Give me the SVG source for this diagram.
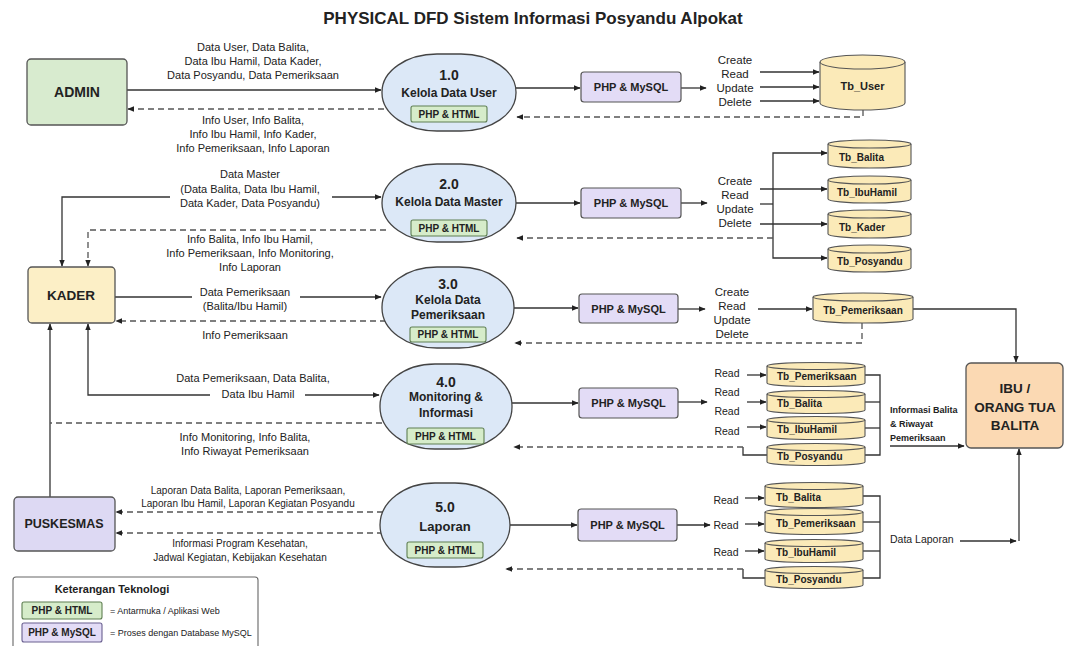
<svg xmlns="http://www.w3.org/2000/svg" width="1067" height="646" viewBox="0 0 1067 646">
<style>
text{font-family:"Liberation Sans",Arial,sans-serif;fill:#222;dominant-baseline:central}
.t{font-size:17px;font-weight:bold;text-anchor:middle}
.ent{font-size:14px;font-weight:bold;text-anchor:middle}
.pn{font-size:14px;font-weight:bold;text-anchor:middle}
.pt{font-size:12px;font-weight:bold;text-anchor:middle}
.bd{font-size:10px;font-weight:bold;text-anchor:middle}
.my{font-size:11px;font-weight:bold;text-anchor:middle}
.lb{font-size:11px;text-anchor:middle}
.lbs{font-size:10px;text-anchor:middle}
.op{font-size:11.5px;text-anchor:middle}
.rd{font-size:10.5px;text-anchor:middle}
.tb{font-size:10px;font-weight:bold}
.sm{font-size:9px;font-weight:bold}
.lg{font-size:9px}
.proc{fill:#dce8f7;stroke:#444;stroke-width:1.3}
.badge{fill:#d6ecca;stroke:#5f7f52;stroke-width:1.1}
.mysql{fill:#e3dcf6;stroke:#555;stroke-width:1.2}
.cyl{fill:#fbeab8;stroke:#555;stroke-width:1.1}
.s{fill:none;stroke:#333;stroke-width:1.3}
.d{fill:none;stroke:#555;stroke-width:1.3;stroke-dasharray:6 4}
</style>
<defs>
<marker id="a" viewBox="0 0 10 10" refX="9" refY="5" markerWidth="7" markerHeight="7" orient="auto" markerUnits="userSpaceOnUse">
<path d="M0,1 L10,5 L0,9 Z" fill="#222"/>
</marker>
</defs>
<rect width="1067" height="646" fill="#fff"/>
<text class="t" x="533" y="18">PHYSICAL DFD Sistem Informasi Posyandu Alpokat</text>

<g id="connectors">
<path class="s" d="M127,90 H381" marker-end="url(#a)"/>
<path class="d" d="M384,109 H128" marker-end="url(#a)"/>
<path class="s" d="M516,88 H580" marker-end="url(#a)"/>
<path class="s" d="M681,88 H706" marker-end="url(#a)"/>
<path class="s" d="M760,72 H819" marker-end="url(#a)"/>
<path class="s" d="M760,87 H819" marker-end="url(#a)"/>
<path class="s" d="M760,101 H819" marker-end="url(#a)"/>
<path class="d" d="M863,110 V117 H517" marker-end="url(#a)"/>
<path class="s" d="M170,197 H62 V266" marker-end="url(#a)"/>
<path class="s" d="M332,197 H381" marker-end="url(#a)"/>
<path class="d" d="M386,230 H88 V266" marker-end="url(#a)"/>
<path class="s" d="M516,203 H580" marker-end="url(#a)"/>
<path class="s" d="M681,203 H707" marker-end="url(#a)"/>
<path class="s" d="M760,189 H827" marker-end="url(#a)"/>
<path class="s" d="M760,204 H773"/>
<path class="s" d="M760,224 H827" marker-end="url(#a)"/>
<path class="s" d="M773,205 V153 H827" marker-end="url(#a)"/>
<path class="s" d="M773,205 V258 H827" marker-end="url(#a)"/>
<path class="d" d="M773,238 H517" marker-end="url(#a)"/>
<path class="s" d="M115,297 H192"/>
<path class="s" d="M300,297 H381" marker-end="url(#a)"/>
<path class="d" d="M386,321 H116" marker-end="url(#a)"/>
<path class="s" d="M514,308 H578" marker-end="url(#a)"/>
<path class="s" d="M678,309 H705" marker-end="url(#a)"/>
<path class="s" d="M758,309 H812" marker-end="url(#a)"/>
<path class="s" d="M913,309 H1016 V362" marker-end="url(#a)"/>
<path class="d" d="M862,323 V343 H515" marker-end="url(#a)"/>
<path class="s" d="M210,395 H88 V324" marker-end="url(#a)"/>
<path class="s" d="M305,395 H379" marker-end="url(#a)"/>
<path class="s" d="M50,497 V324" marker-end="url(#a)"/>
<path class="d" d="M382,423 H50"/>
<path class="s" d="M512,403 H578" marker-end="url(#a)"/>
<path class="s" d="M678,402 H707" marker-end="url(#a)"/>
<path class="s" d="M747,375 H766" marker-end="url(#a)"/>
<path class="s" d="M747,402 H766" marker-end="url(#a)"/>
<path class="s" d="M747,427 H766" marker-end="url(#a)"/>
<path class="s" d="M865,375 H880 V455 H865"/>
<path class="s" d="M865,402 H880"/>
<path class="s" d="M865,428 H880"/>
<path class="s" d="M767,455 H743 V447"/>
<path class="d" d="M743,447 H514" marker-end="url(#a)"/>
<path class="s" d="M890,446 H964" marker-end="url(#a)"/>
<path class="d" d="M383,512 H116" marker-end="url(#a)"/>
<path class="d" d="M383,533 H116" marker-end="url(#a)"/>
<path class="s" d="M510,525 H577" marker-end="url(#a)"/>
<path class="s" d="M677,525 H710" marker-end="url(#a)"/>
<path class="s" d="M745,498 H764" marker-end="url(#a)"/>
<path class="s" d="M745,524 H764" marker-end="url(#a)"/>
<path class="s" d="M745,551 H764" marker-end="url(#a)"/>
<path class="s" d="M863,496 H880 V578 H863"/>
<path class="s" d="M863,522 H880"/>
<path class="s" d="M863,551 H880"/>
<path class="s" d="M765,578 H743 V569"/>
<path class="d" d="M743,569 H506" marker-end="url(#a)"/>
<path class="s" d="M960,541 H1016" marker-end="url(#a)"/>
<path class="s" d="M1019,541 V449" marker-end="url(#a)"/>
</g>

<g id="labels">
<text class="lb" x="253" y="47">Data User, Data Balita,</text>
<text class="lb" x="253" y="61">Data Ibu Hamil, Data Kader,</text>
<text class="lb" x="253" y="75">Data Posyandu, Data Pemeriksaan</text>
<text class="lb" x="253" y="120">Info User, Info Balita,</text>
<text class="lb" x="253" y="134">Info Ibu Hamil, Info Kader,</text>
<text class="lb" x="253" y="148">Info Pemeriksaan, Info Laporan</text>
<text class="lb" x="250" y="174">Data Master</text>
<text class="lb" x="250" y="189">(Data Balita, Data Ibu Hamil,</text>
<text class="lb" x="250" y="203">Data Kader, Data Posyandu)</text>
<text class="lb" x="250" y="239">Info Balita, Info Ibu Hamil,</text>
<text class="lb" x="250" y="253">Info Pemeriksaan, Info Monitoring,</text>
<text class="lb" x="250" y="267">Info Laporan</text>
<text class="lb" x="245" y="292">Data Pemeriksaan</text>
<text class="lb" x="245" y="306">(Balita/Ibu Hamil)</text>
<text class="lb" x="245" y="335">Info Pemeriksaan</text>
<text class="lb" x="253" y="378">Data Pemeriksaan, Data Balita,</text>
<text class="lb" x="258" y="394">Data Ibu Hamil</text>
<text class="lb" x="245" y="437">Info Monitoring, Info Balita,</text>
<text class="lb" x="245" y="451">Info Riwayat Pemeriksaan</text>
<text class="lbs" x="248" y="490">Laporan Data Balita, Laporan Pemeriksaan,</text>
<text class="lbs" x="248" y="503">Laporan Ibu Hamil, Laporan Kegiatan Posyandu</text>
<text class="lbs" x="240" y="543">Informasi Program Kesehatan,</text>
<text class="lbs" x="240" y="557">Jadwal Kegiatan, Kebijakan Kesehatan</text>
<text class="op" x="735" y="60">Create</text>
<text class="op" x="735" y="74">Read</text>
<text class="op" x="735" y="88">Update</text>
<text class="op" x="735" y="102">Delete</text>
<text class="op" x="735" y="181">Create</text>
<text class="op" x="735" y="195">Read</text>
<text class="op" x="735" y="209">Update</text>
<text class="op" x="735" y="223">Delete</text>
<text class="op" x="732" y="292">Create</text>
<text class="op" x="732" y="306">Read</text>
<text class="op" x="732" y="320">Update</text>
<text class="op" x="732" y="334">Delete</text>
<text class="rd" x="727" y="373">Read</text>
<text class="rd" x="727" y="392">Read</text>
<text class="rd" x="727" y="411">Read</text>
<text class="rd" x="727" y="431">Read</text>
<text class="rd" x="726" y="500">Read</text>
<text class="rd" x="726" y="525">Read</text>
<text class="rd" x="726" y="552">Read</text>
<text class="sm" x="890" y="410">Informasi Balita</text>
<text class="sm" x="890" y="424">&amp; Riwayat</text>
<text class="sm" x="890" y="438">Pemeriksaan</text>
<text x="890" y="539" style="font-size:10.5px">Data Laporan</text>
</g>

<g id="admin">
<rect x="27" y="59" width="100" height="66" rx="4" fill="#d8ebcf" stroke="#555" stroke-width="1.3"/>
<text class="ent" x="77" y="92">ADMIN</text>
</g>
<g id="kader">
<rect x="28" y="267" width="87" height="56" rx="4" fill="#fcefc6" stroke="#555" stroke-width="1.3"/>
<text class="ent" x="71" y="295" style="font-size:13.5px">KADER</text>
</g>
<g id="puskesmas">
<rect x="14" y="497" width="101" height="54" rx="4" fill="#ddd9f3" stroke="#555" stroke-width="1.3"/>
<text class="ent" x="64" y="524" style="font-size:12.5px">PUSKESMAS</text>
</g>
<g id="ibu">
<rect x="966" y="363" width="97" height="85" rx="5" fill="#fbd9b3" stroke="#555" stroke-width="1.3"/>
<text class="ent" x="1015" y="388" style="font-size:13.5px">IBU /</text>
<text class="ent" x="1015" y="407" style="font-size:13.5px">ORANG TUA</text>
<text class="ent" x="1015" y="425" style="font-size:13.5px">BALITA</text>
</g>

<g id="p1">
<rect class="proc" x="382" y="54" width="134" height="77" rx="55" ry="38"/>
<text class="pn" x="449" y="75">1.0</text>
<text class="pt" x="449" y="93">Kelola Data User</text>
<rect class="badge" x="411" y="106" width="76" height="16" rx="2"/>
<text class="bd" x="449" y="114">PHP &amp; HTML</text>
</g>
<g id="p2">
<rect class="proc" x="382" y="164" width="134" height="78" rx="55" ry="39"/>
<text class="pn" x="449" y="184">2.0</text>
<text class="pt" x="449" y="202">Kelola Data Master</text>
<rect class="badge" x="411" y="220" width="76" height="16" rx="2"/>
<text class="bd" x="449" y="228">PHP &amp; HTML</text>
</g>
<g id="p3">
<rect class="proc" x="382" y="267" width="132" height="81" rx="55" ry="40"/>
<text class="pn" x="448" y="284">3.0</text>
<text class="pt" x="448" y="300">Kelola Data</text>
<text class="pt" x="448" y="315">Pemeriksaan</text>
<rect class="badge" x="410" y="327" width="76" height="15" rx="2"/>
<text class="bd" x="448" y="334.5">PHP &amp; HTML</text>
</g>
<g id="p4">
<rect class="proc" x="380" y="364" width="132" height="85" rx="55" ry="42"/>
<text class="pn" x="446" y="382">4.0</text>
<text class="pt" x="446" y="397">Monitoring &amp;</text>
<text class="pt" x="446" y="413">Informasi</text>
<rect class="badge" x="407" y="428" width="77" height="16" rx="2"/>
<text class="bd" x="445.5" y="436">PHP &amp; HTML</text>
</g>
<g id="p5">
<rect class="proc" x="380" y="483" width="130" height="84" rx="55" ry="42"/>
<text class="pn" x="445" y="507">5.0</text>
<text class="pt" x="445" y="526" style="font-size:13px">Laporan</text>
<rect class="badge" x="407" y="542" width="76" height="16" rx="2"/>
<text class="bd" x="445" y="550">PHP &amp; HTML</text>
</g>

<g id="mysql1"><rect class="mysql" x="581" y="72" width="100" height="30" rx="3"/><text class="my" x="631" y="87">PHP &amp; MySQL</text></g>
<g id="mysql2"><rect class="mysql" x="581" y="188" width="100" height="30" rx="3"/><text class="my" x="631" y="203">PHP &amp; MySQL</text></g>
<g id="mysql3"><rect class="mysql" x="579" y="294" width="99" height="29" rx="3"/><text class="my" x="628.5" y="308.5">PHP &amp; MySQL</text></g>
<g id="mysql4"><rect class="mysql" x="579" y="388" width="99" height="30" rx="3"/><text class="my" x="628.5" y="403">PHP &amp; MySQL</text></g>
<g id="mysql5"><rect class="mysql" x="578" y="509" width="99" height="32" rx="3"/><text class="my" x="627.5" y="525">PHP &amp; MySQL</text></g>

<g id="tb_user">
<path class="cyl" d="M820,62 A42.5,7 0 0 1 905,62 V103 A42.5,7 0 0 1 820,103 Z"/>
<path class="cyl" d="M820,62 A42.5,7 0 0 0 905,62" fill="none"/>
<text class="tb" x="862.5" y="86" text-anchor="middle" style="font-size:11px">Tb_User</text>
</g>
<g id="tb_balita2">
<path class="cyl" d="M828,144 A41.5,4 0 0 1 911,144 V164 A41.5,4 0 0 1 828,164 Z"/>
<path class="cyl" d="M828,144 A41.5,4 0 0 0 911,144" fill="none"/>
<text class="tb" x="839" y="157">Tb_Balita</text>
</g>
<g id="tb_ibuhamil2">
<path class="cyl" d="M828,180 A41.5,4 0 0 1 911,180 V199 A41.5,4 0 0 1 828,199 Z"/>
<path class="cyl" d="M828,180 A41.5,4 0 0 0 911,180" fill="none"/>
<text class="tb" x="837" y="192">Tb_IbuHamil</text>
</g>
<g id="tb_kader2">
<path class="cyl" d="M828,214 A41.5,4 0 0 1 911,214 V234 A41.5,4 0 0 1 828,234 Z"/>
<path class="cyl" d="M828,214 A41.5,4 0 0 0 911,214" fill="none"/>
<text class="tb" x="839" y="227">Tb_Kader</text>
</g>
<g id="tb_posyandu2">
<path class="cyl" d="M828,249 A41.5,4 0 0 1 911,249 V268 A41.5,4 0 0 1 828,268 Z"/>
<path class="cyl" d="M828,249 A41.5,4 0 0 0 911,249" fill="none"/>
<text class="tb" x="837" y="261">Tb_Posyandu</text>
</g>
<g id="tb_pemeriksaan3">
<path class="cyl" d="M813,297 A50,4 0 0 1 913,297 V319 A50,4 0 0 1 813,319 Z"/>
<path class="cyl" d="M813,297 A50,4 0 0 0 913,297" fill="none"/>
<text class="tb" x="863" y="310" text-anchor="middle">Tb_Pemeriksaan</text>
</g>
<g id="tb_pemeriksaan4">
<path class="cyl" d="M767,366 A49,3.5 0 0 1 865,366 V383 A49,3.5 0 0 1 767,383 Z"/>
<path class="cyl" d="M767,366 A49,3.5 0 0 0 865,366" fill="none"/>
<text class="tb" x="777" y="376">Tb_Pemeriksaan</text>
</g>
<g id="tb_balita4">
<path class="cyl" d="M767,394 A49,3.5 0 0 1 865,394 V410 A49,3.5 0 0 1 767,410 Z"/>
<path class="cyl" d="M767,394 A49,3.5 0 0 0 865,394" fill="none"/>
<text class="tb" x="777" y="403">Tb_Balita</text>
</g>
<g id="tb_ibuhamil4">
<path class="cyl" d="M767,420 A49,3.5 0 0 1 865,420 V436 A49,3.5 0 0 1 767,436 Z"/>
<path class="cyl" d="M767,420 A49,3.5 0 0 0 865,420" fill="none"/>
<text class="tb" x="777" y="429">Tb_IbuHamil</text>
</g>
<g id="tb_posyandu4">
<path class="cyl" d="M767,447 A49,3.5 0 0 1 865,447 V462 A49,3.5 0 0 1 767,462 Z"/>
<path class="cyl" d="M767,447 A49,3.5 0 0 0 865,447" fill="none"/>
<text class="tb" x="777" y="456">Tb_Posyandu</text>
</g>
<g id="tb_balita5">
<path class="cyl" d="M765,486 A49,3.5 0 0 1 863,486 V504 A49,3.5 0 0 1 765,504 Z"/>
<path class="cyl" d="M765,486 A49,3.5 0 0 0 863,486" fill="none"/>
<text class="tb" x="776" y="497">Tb_Balita</text>
</g>
<g id="tb_pemeriksaan5">
<path class="cyl" d="M765,512 A49,3.5 0 0 1 863,512 V531 A49,3.5 0 0 1 765,531 Z"/>
<path class="cyl" d="M765,512 A49,3.5 0 0 0 863,512" fill="none"/>
<text class="tb" x="776" y="523">Tb_Pemeriksaan</text>
</g>
<g id="tb_ibuhamil5">
<path class="cyl" d="M765,543 A49,3.5 0 0 1 863,543 V559 A49,3.5 0 0 1 765,559 Z"/>
<path class="cyl" d="M765,543 A49,3.5 0 0 0 863,543" fill="none"/>
<text class="tb" x="776" y="552">Tb_IbuHamil</text>
</g>
<g id="tb_posyandu5">
<path class="cyl" d="M765,570 A49,3.5 0 0 1 863,570 V585 A49,3.5 0 0 1 765,585 Z"/>
<path class="cyl" d="M765,570 A49,3.5 0 0 0 863,570" fill="none"/>
<text class="tb" x="776" y="579">Tb_Posyandu</text>
</g>

<g id="legend">
<rect x="13" y="577" width="245" height="80" rx="3" fill="#fff" stroke="#666" stroke-width="1.1"/>
<text x="112" y="589" style="font-size:11px;font-weight:bold;text-anchor:middle">Keterangan Teknologi</text>
<rect class="badge" x="22" y="602" width="80" height="17" rx="2"/>
<text class="bd" x="62" y="610.5">PHP &amp; HTML</text>
<text class="lg" x="110" y="611">= Antarmuka / Aplikasi Web</text>
<rect x="22" y="623" width="80" height="19" rx="2" fill="#e3dcf6" stroke="#6a6090" stroke-width="1.1"/>
<text class="bd" x="62" y="632.5">PHP &amp; MySQL</text>
<text class="lg" x="110" y="633">= Proses dengan Database MySQL</text>
</g>
</svg>
